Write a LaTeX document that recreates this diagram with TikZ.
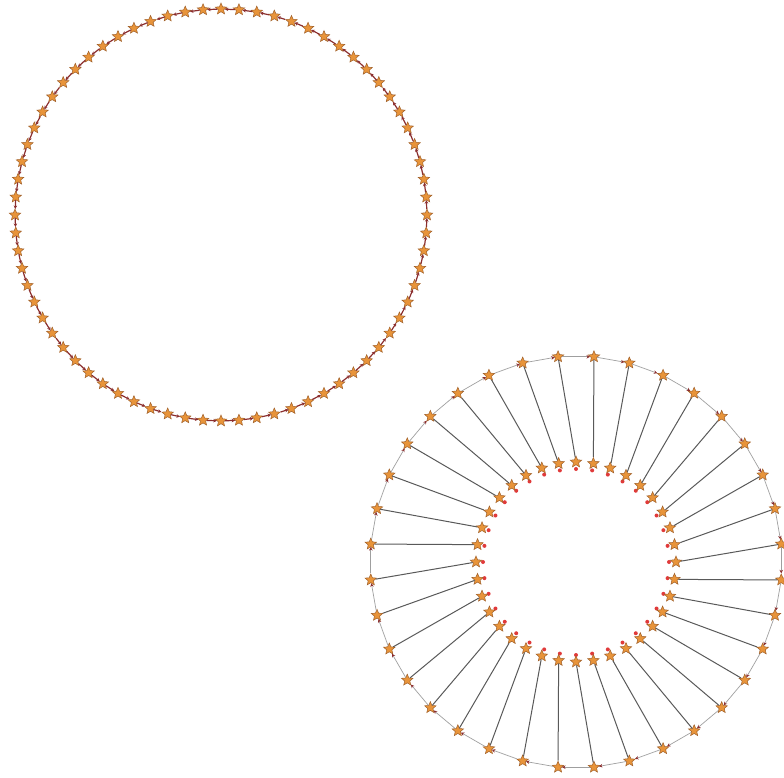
\documentclass[tikz,border=0pt]{standalone}
\usetikzlibrary{shapes.geometric,arrows.meta}
\definecolor{starfill}{HTML}{E8943A}
\definecolor{stardraw}{HTML}{A0602A}
\definecolor{ringred}{HTML}{8B2E2E}
\definecolor{tipred}{HTML}{E03A3A}
\begin{document}
\begin{tikzpicture}[x=1pt,y=-1pt,
  starnode/.style={star, star points=5, star point ratio=2.2, minimum size=12pt,
    inner sep=0pt, fill=starfill, draw=stardraw, line width=0.5pt},
  leftedge/.style={draw=ringred, line width=1.2pt, -{Stealth[length=3.5pt,width=3.5pt]}},
  outeredge/.style={draw=gray!75, line width=0.7pt, -{Stealth[length=3.5pt,width=3.5pt,color=ringred]}},
  radialedge/.style={draw=black!65, line width=1pt},
  reddot/.style={circle, fill=tipred, inner sep=0pt, minimum size=4pt}]
\useasboundingbox (0,0) rectangle (784,778);
% left ring
\foreach \k in {0,...,71} {
  \node[starnode] (L\k) at ({221+206*cos(5*\k)},{215-206*sin(5*\k)}) {};
}
\foreach \k in {0,...,71} {
  \pgfmathtruncatemacro{\nk}{mod(\k+1,72)}
  \draw[leftedge] (L\k) -- (L\nk);
}
% right: outer and inner rings
\foreach \k in {0,...,35} {
  \node[starnode] (O\k) at ({576+206*cos(5+10*\k)},{562-206*sin(5+10*\k)}) {};
  \node[reddot] (D\k) at ({576+93*cos(10*\k)},{562-93*sin(10*\k)}) {};
  \node[starnode] (I\k) at ({576+100*cos(10*\k)},{562-100*sin(10*\k)}) {};
}
\foreach \k in {0,...,35} {
  \pgfmathtruncatemacro{\nk}{mod(\k+35,36)}
  \draw[outeredge] (O\k) -- (O\nk);
  \draw[radialedge] (O\k) -- (I\k);
}
\end{tikzpicture}
\end{document}
